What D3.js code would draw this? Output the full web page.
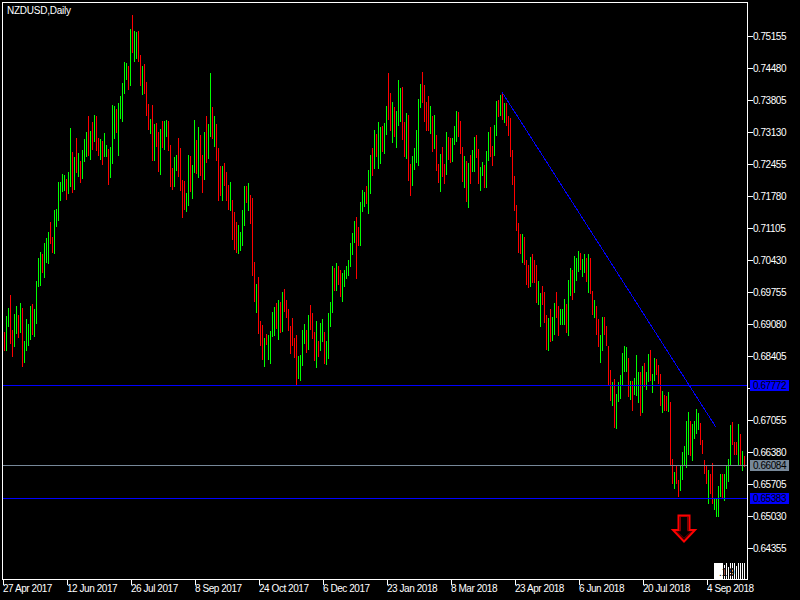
<!DOCTYPE html>
<html><head><meta charset="utf-8">
<script src="https://cdn.jsdelivr.net/npm/d3@7/dist/d3.min.js"></script>
<style>html,body{margin:0;background:#000;overflow:hidden}svg{display:block}
text{font-family:"Liberation Sans",sans-serif;font-size:10px}</style>
</head><body><div id="c"></div>
<script>
const symbolTitle = "NZDUSD,Daily";
const highs = [
.6889,.6922,.6940,.6967,.6893,.6927,.6944,.6924,.6951,.6940,.6870,.6916,.6906,.6944,.6949,.6938,.6997,.7045,.7058,.7054,
.7077,.7087,.7100,.7121,.7089,.7146,.7148,.7206,.7206,.7223,.7220,.7212,.7227,.7319,.7269,.7258,.7298,.7267,.7250,.7273,
.7296,.7311,.7344,.7313,.7332,.7346,.7344,.7298,.7296,.7292,.7309,.7283,.7275,.7279,.7367,.7365,.7359,.7372,.7386,.7415,
.7459,.7457,.7450,.7528,.7557,.7524,.7522,.7524,.7473,.7450,.7455,.7417,.7370,.7338,.7367,.7328,.7330,.7311,.7317,.7334,
.7334,.7336,.7334,.7283,.7235,.7258,.7262,.7298,.7277,.7210,.7208,.7183,.7262,.7260,.7242,.7336,.7294,.7321,.7304,.7262,
.7311,.7344,.7328,.7436,.7363,.7344,.7328,.7277,.7239,.7239,.7246,.7227,.7199,.7206,.7167,.7142,.7121,.7114,.7100,.7146,
.7197,.7197,.7204,.7178,.7172,.7037,.6991,.7005,.6912,.6903,.6876,.6885,.6882,.6891,.6931,.6942,.6951,.6957,.6953,.6974,
.6980,.6957,.6938,.6901,.6918,.6876,.6882,.6838,.6840,.6893,.6906,.6893,.6924,.6946,.6929,.6889,.6912,.6870,.6908,.6916,
.6889,.6870,.6929,.6953,.7028,.7024,.7035,.7028,.7020,.7014,.7020,.7028,.7041,.7077,.7098,.7123,.7131,.7110,.7163,.7189,
.7185,.7197,.7231,.7262,.7277,.7315,.7307,.7332,.7321,.7323,.7330,.7365,.7436,.7393,.7374,.7363,.7355,.7421,.7404,.7406,
.7332,.7351,.7346,.7244,.7260,.7277,.7315,.7380,.7413,.7438,.7410,.7374,.7386,.7365,.7344,.7346,.7304,.7244,.7265,.7279,
.7244,.7311,.7300,.7298,.7298,.7323,.7355,.7353,.7334,.7279,.7260,.7250,.7246,.7262,.7273,.7300,.7304,.7275,.7237,.7248,
.7242,.7271,.7311,.7321,.7281,.7325,.7376,.7378,.7388,.7395,.7372,.7372,.7344,.7340,.7273,.7218,.7156,.7119,.7096,.7096,
.7089,.7041,.7030,.7047,.7054,.7041,.7030,.6997,.6972,.6986,.6974,.6924,.6918,.6938,.6920,.6951,.6974,.6944,.6938,.6938,
.6959,.6949,.6999,.7024,.7020,.7049,.7045,.7060,.7056,.7043,.7054,.7045,.7054,.7045,.6976,.6957,.6944,.6916,.6882,.6920,
.6920,.6901,.6859,.6809,.6784,.6790,.6759,.6784,.6798,.6845,.6859,.6857,.6834,.6786,.6786,.6792,.6840,.6805,.6805,.6817,
.6824,.6805,.6843,.6851,.6800,.6834,.6832,.6819,.6800,.6765,.6756,.6754,.6763,.6742,.6621,.6594,.6608,.6577,.6608,.6636,
.6649,.6701,.6720,.6701,.6695,.6701,.6726,.6718,.6697,.6661,.6619,.6608,.6598,.6590,.6613,.6539,.6539,.6565,.6590,.6590,
.6590,.6608,.6621,.6692,.6699,.6657,.6657,.6695,.6674,.6638,.6628];
const lows = [
.6849,.6849,.6899,.6864,.6836,.6857,.6885,.6876,.6887,.6815,.6824,.6849,.6859,.6872,.6882,.6878,.6906,.6984,.6986,.7014,
.7003,.7035,.7033,.7075,.7056,.7054,.7110,.7123,.7165,.7185,.7187,.7167,.7181,.7195,.7183,.7189,.7225,.7216,.7204,.7212,
.7248,.7258,.7260,.7252,.7273,.7290,.7271,.7260,.7252,.7242,.7258,.7258,.7199,.7214,.7244,.7296,.7309,.7260,.7338,.7332,
.7391,.7421,.7399,.7408,.7478,.7459,.7465,.7459,.7408,.7388,.7391,.7344,.7315,.7307,.7250,.7250,.7279,.7227,.7220,.7277,
.7273,.7300,.7271,.7195,.7189,.7195,.7229,.7216,.7187,.7129,.7146,.7142,.7154,.7185,.7170,.7225,.7223,.7214,.7218,.7183,
.7210,.7246,.7254,.7300,.7296,.7279,.7250,.7165,.7176,.7165,.7197,.7165,.7146,.7144,.7083,.7062,.7056,.7054,.7060,.7070,
.7112,.7161,.7144,.7117,.7007,.6953,.6929,.6885,.6859,.6830,.6815,.6861,.6830,.6822,.6878,.6880,.6895,.6872,.6887,.6889,
.6931,.6918,.6891,.6843,.6859,.6834,.6777,.6790,.6786,.6817,.6864,.6845,.6851,.6893,.6874,.6828,.6813,.6836,.6849,.6868,
.6822,.6819,.6832,.6899,.6929,.6976,.6976,.6988,.6963,.6953,.6984,.7001,.7007,.7026,.7051,.7077,.7001,.7070,.7070,.7142,
.7152,.7159,.7137,.7181,.7218,.7233,.7258,.7233,.7244,.7269,.7265,.7304,.7336,.7313,.7287,.7300,.7277,.7323,.7332,.7294,
.7258,.7254,.7208,.7176,.7197,.7231,.7246,.7239,.7361,.7372,.7332,.7313,.7313,.7307,.7269,.7275,.7229,.7204,.7185,.7216,
.7202,.7220,.7252,.7246,.7248,.7283,.7290,.7300,.7265,.7206,.7193,.7163,.7150,.7202,.7227,.7227,.7256,.7202,.7187,.7218,
.7193,.7193,.7250,.7258,.7239,.7260,.7302,.7342,.7344,.7336,.7330,.7323,.7302,.7258,.7199,.7144,.7102,.7056,.7054,.7035,
.7030,.6988,.6982,.6984,.6993,.6993,.6951,.6946,.6899,.6946,.6908,.6851,.6849,.6868,.6870,.6882,.6918,.6880,.6903,.6903,
.6903,.6887,.6880,.6965,.6957,.6972,.6997,.7016,.7020,.7005,.7014,.6995,.6972,.6970,.6924,.6918,.6882,.6857,.6824,.6849,
.6882,.6859,.6777,.6744,.6733,.6686,.6684,.6742,.6748,.6777,.6805,.6805,.6752,.6746,.6722,.6757,.6755,.6740,.6711,.6718,
.6773,.6767,.6784,.6786,.6761,.6786,.6798,.6780,.6733,.6718,.6722,.6722,.6720,.6608,.6569,.6558,.6569,.6541,.6554,.6577,
.6606,.6602,.6629,.6627,.6617,.6663,.6674,.6682,.6650,.6632,.6590,.6569,.6527,.6548,.6527,.6514,.6499,.6499,.6541,.6539,
.6533,.6558,.6573,.6608,.6650,.6629,.6629,.6608,.6606,.6596,.6604];
const barDirection = (
"rggrrggrgr"+"ggggrggggr"+"gggrrggggg"+"grggrgrgrg"+"ggrgrgrrgr"+"ggrgggrggg"+"ggrgrggrrg"+"rrrgrgrrgr"+"ggrrrggrrr"+
"rggrggrgrr"+"grggrgrrrg"+"rrrgrrrggg"+"grgrrrgrrr"+"grggggrgrg"+"rrrrrrrggg"+"grgrrrgrgg"+"rggggrgrrg"+"ggggggrrgg"+
"grggrgrggr"+"ggrrgrgggr"+"rgrrgggggr"+"rrrgrgrrgr"+"rgrrgggrrr"+"grgrggrrgg"+"rggrrggrgr"+"grrrrrrrrg"+"rrrgrrrggr"+
"rrgrggrrgg"+"grggrgggrg"+"grgrrgrrgg"+"rrrrgrgggg"+"ggrgrgggrg"+"rggrggrrrg"+"rrgrrgrrgg"+"gggrggggrr"+"rrgrrggggr"+
"ggggrrrgrg"+"r").split("");
const tickDates = ["27 Apr 2017","12 Jun 2017","26 Jul 2017","8 Sep 2017","24 Oct 2017","6 Dec 2017","23 Jan 2018","8 Mar 2018","23 Apr 2018","6 Jun 2018","20 Jul 2018","4 Sep 2018"];
const priceTicks = [0.75155,0.74480,0.73805,0.73130,0.72455,0.71780,0.71105,0.70430,0.69755,0.69080,0.68405,0.67730,0.67055,0.66380,0.65705,0.65030,0.64355];
const hiddenTick = 0.67730;
const priceLevels = [0.67772,0.66084,0.65383];
const levelColors = ["#0000ff","#778899","#0000ff"];
const trendBars = [249,356];
const trendPrices = [0.7395,0.6688];
const arrowBar = 340, arrowPrice = 0.6447;
const cornerStripes = [16,16,16,16,16,14,16,12,16,16,16,13,16,16,16,16];

const W=800,H=600,plotL=2,plotR=747,plotT=2,plotB=579;
const x=d3.scaleLinear().domain([0,370]).range([4,744]);
const y=d3.scaleLinear().domain([0.64355,0.75155]).range([547,35]);
const svg=d3.select("#c").append("svg").attr("width",W).attr("height",H).style("background","#000");
const colors={g:"#00ff00",r:"#ff0000"};

svg.append("g").attr("shape-rendering","crispEdges").selectAll("rect").data(highs).join("rect")
  .attr("x",(d,i)=>Math.round(x(i)))
  .attr("y",d=>Math.round(y(d)))
  .attr("width",1)
  .attr("height",(d,i)=>Math.max(1,Math.round(y(lows[i]))-Math.round(y(d))))
  .attr("fill",(d,i)=>colors[barDirection[i]]);

svg.append("g").attr("shape-rendering","crispEdges").selectAll("rect").data(priceLevels).join("rect")
  .attr("x",plotL).attr("width",plotR-plotL).attr("y",d=>Math.round(y(d))).attr("height",1)
  .attr("fill",(d,i)=>levelColors[i]);

svg.append("line").attr("x1",x(trendBars[0])).attr("x2",x(trendBars[1]))
  .attr("y1",y(trendPrices[0])).attr("y2",y(trendPrices[1]))
  .attr("stroke","#0000ff").attr("stroke-width",1).attr("shape-rendering","crispEdges");

const ax=x(arrowBar), ay=y(arrowPrice);
function arrowPath(inset){
  const a=11-inset*1.6,s=5.5-inset,t=26-inset*0.4,h=11.5-inset*0.4;
  return `M${ax},${ay-inset*1.6}L${ax-a},${ay-h}L${ax-s},${ay-h}L${ax-s},${ay-t}L${ax+s},${ay-t}L${ax+s},${ay-h}L${ax+a},${ay-h}Z`;
}
svg.append("path").attr("d",arrowPath(2)).attr("fill","none").attr("stroke","#7a0000").attr("stroke-width",1);
svg.append("path").attr("d",arrowPath(0)).attr("fill","none").attr("stroke","#ff0000").attr("stroke-width",2).attr("stroke-linejoin","miter");

const strip=svg.append("g").attr("shape-rendering","crispEdges");
strip.append("rect").attr("x",714).attr("y",plotB-16).attr("width",9).attr("height",16).attr("fill","#fff");
strip.selectAll(".s").data(cornerStripes).join("rect").attr("class","s")
  .attr("x",(d,i)=>714+i*2).attr("width",1).attr("y",d=>plotB-d).attr("height",d=>d).attr("fill","#fff");
strip.append("text").attr("x",719).attr("y",576).attr("fill","#000").text(".1");
strip.append("text").attr("x",729).attr("y",576).attr("fill","#000").style("font-weight","bold").text("9");

svg.append("rect").attr("x",plotL+.5).attr("y",plotT+.5).attr("width",plotR-plotL).attr("height",plotB-plotT)
  .attr("fill","none").attr("stroke","#fff").attr("stroke-width",1).attr("shape-rendering","crispEdges");

const axisR=d3.axisRight(y).tickValues(priceTicks).tickFormat(d3.format(".5f")).tickSize(5).tickPadding(0);
const gy=svg.append("g").attr("transform",`translate(${plotR+.5},0.5)`).call(axisR);
gy.select(".domain").remove();
gy.selectAll("line").attr("stroke","#fff").attr("shape-rendering","crispEdges");
gy.selectAll("text").attr("fill","#fff").attr("x",5.5).attr("dy","0.36em")
  .style("font-size","10px").style("letter-spacing","-0.45px").style("font-family","'Liberation Sans',sans-serif")
  .filter(d=>d===hiddenTick).remove();

const lab=svg.append("g").selectAll("g").data(priceLevels).join("g");
lab.append("rect").attr("x",750).attr("width",39).attr("y",d=>Math.round(y(d))-5).attr("height",11)
  .attr("fill",(d,i)=>levelColors[i]).attr("shape-rendering","crispEdges");
lab.append("text").attr("x",753).attr("y",d=>Math.round(y(d))+4).attr("fill","#000")
  .style("letter-spacing","-0.45px").text(d=>d3.format(".5f")(d));

const tickBars=tickDates.map((d,i)=>-1+32*i);
const axisB=d3.axisBottom(x).tickValues(tickBars).tickFormat((d,i)=>tickDates[i]).tickSize(5).tickPadding(0);
const gx=svg.append("g").attr("transform",`translate(0.5,${plotB+.5})`).call(axisB);
gx.select(".domain").remove();
gx.selectAll("line").attr("stroke","#fff").attr("shape-rendering","crispEdges");
gx.selectAll("text").attr("fill","#fff").attr("text-anchor","start").attr("y",5).attr("dy","0.71em").attr("x",0)
  .style("font-size","10px").style("letter-spacing","-0.45px").style("font-family","'Liberation Sans',sans-serif");

svg.append("text").attr("x",7).attr("y",14).attr("fill","#fff").style("letter-spacing","-0.25px").text(symbolTitle);
</script>
</body></html>
